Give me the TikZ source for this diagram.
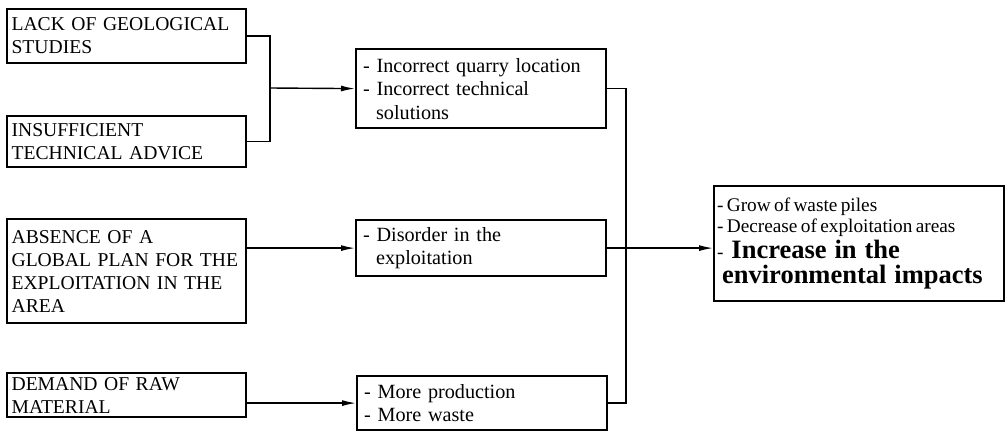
\documentclass[tikz,border=0pt]{standalone}
\usepackage{fontspec}
\setmainfont{Liberation Serif}
\usetikzlibrary{arrows.meta}
\begin{document}
\begin{tikzpicture}[x=1pt,y=-1pt,
  box/.style={draw, line width=2.2pt, anchor=north west, align=left, inner sep=0pt},
  leftbox/.style={box, minimum width=239pt, text width=230pt, font=\fontsize{19.6}{23}\selectfont},
  midbox/.style={box, minimum width=250pt, text width=236pt, font=\fontsize{20.2}{23.5}\selectfont},
  conn/.style={line width=1.4pt},
  arr/.style={conn, -{Latex[length=14pt,width=6pt]}}
]
\useasboundingbox (0,0) rectangle (1007,431);
% left column
\node[leftbox, minimum height=54pt] (L1) at (6,8) {LACK OF GEOLOGICAL\\STUDIES};
\node[leftbox, minimum height=51pt] (L2) at (6,115) {INSUFFICIENT\\TECHNICAL ADVICE};
\node[leftbox, minimum height=104pt] (L3) at (6,218) {ABSENCE OF A\\GLOBAL PLAN FOR THE\\EXPLOITATION IN THE\\AREA};
\node[leftbox, minimum height=44pt] (L4) at (6,372) {DEMAND OF RAW\\MATERIAL};
% middle column
\node[midbox, minimum height=79pt] (M1) at (355,48) {- Incorrect quarry location\\- Incorrect technical\\\hspace*{13pt}solutions};
\node[midbox, minimum height=56pt] (M2) at (355,219) {- Disorder in the\\\hspace*{13pt}exploitation};
\node[midbox, minimum height=54pt] (M3) at (356,375) {- More production\\- More waste};
% right
\node[box, minimum width=290pt, minimum height=115pt, text width=284pt] (R) at (713,185)
  {{\fontsize{19.3}{21.5}\selectfont - Grow of waste piles\\
   - Decrease of exploitation areas\par}
   {\fontsize{26.5}{25.5}\selectfont\spaceskip=0.3em {\fontsize{19.3}{21.5}\selectfont -} \textbf{Increase in the}\\
   \hspace*{5pt}\textbf{environmental impacts}\par}};
% connectors
\coordinate (J1) at (270,88);
\coordinate (J2) at (626,88);
\draw[conn] (L1.east) -| (J1) |- (L2.east);
\draw[arr] (J1) -- (M1.west);
\draw[conn] (M1.east) -| (J2) |- (M3.east);
\draw[arr] (L3.east |- M2.west) -- (M2.west);
\draw[arr] (L4.east |- M3.west) -- (M3.west);
\draw[arr] (M2.east) -- (M2.east -| R.west);
\end{tikzpicture}
\end{document}
